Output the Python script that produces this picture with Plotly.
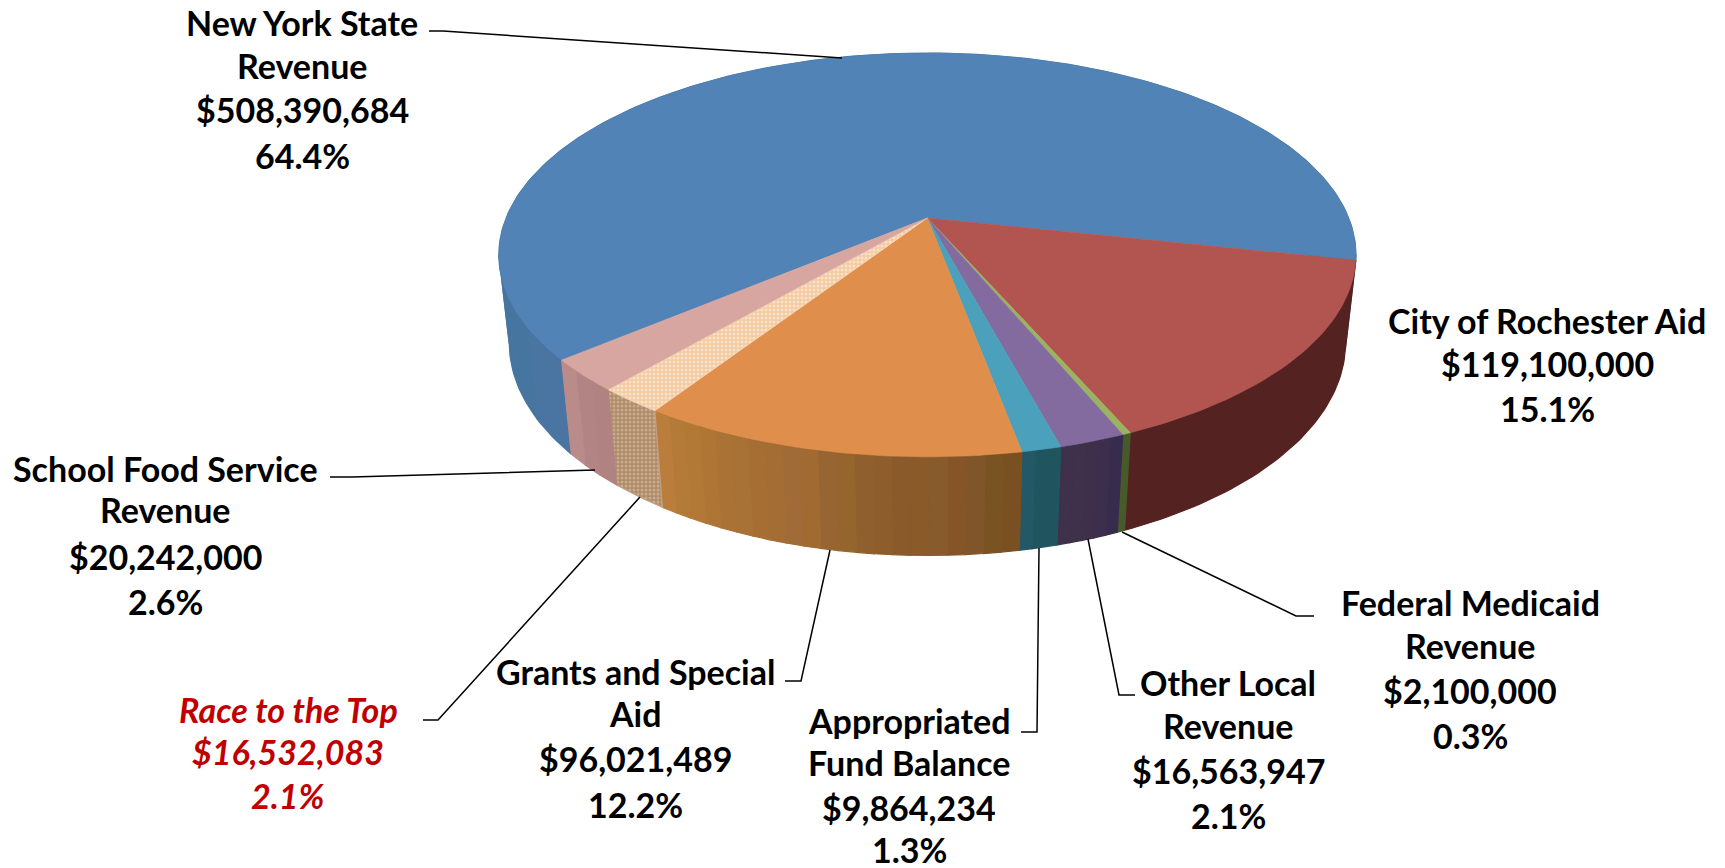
import math
from itertools import groupby
import plotly.graph_objects as go

# ---- data (clockwise order, starting with the blue slice) ----
categories = ["New York State Revenue", "City of Rochester Aid", "Federal Medicaid Revenue",
              "Other Local Revenue", "Appropriated Fund Balance", "Grants and Special Aid",
              "Race to the Top", "School Food Service Revenue"]
values = [508390684, 119100000, 2100000, 16563947, 9864234, 96021489, 16532083, 20242000]
percents = ["64.4%", "15.1%", "0.3%", "2.1%", "1.3%", "12.2%", "2.1%", "2.6%"]
top_colors = ["#5283b6", "#b25551", "#9bb261", "#836ba0", "#4ba1bb", "#df8e4c", "#f6d8bd", "#d8a6a0"]
# side colours, listed in clockwise order (right to left along the front)
side_bands = [
    ["#4a74a2"] + ["#46769f"] * 23,
    ["#542220"],
    ["#475a2a"],
    ["#372c4e", "#3c2f4d", "#3e304b", "#3e314a", "#3f304c"],
    ["#205560", "#205560", "#235866"],
    ["#7a4f22", "#7a5322", "#805529", "#855527", "#875b2b", "#8a5a28", "#8b5a2a", "#8e5d2c",
     "#8f5f2d", "#95652e", "#966531", "#a16a31", "#a06b36", "#a36d33", "#a66e33", "#a87135",
     "#aa7234", "#ae7535", "#b27836", "#b47a38", "#ba7d3b"],
    ["#c0a088"],
    ["#b08282", "#b28484", "#b98c8a"],
]
side_pattern = {6: ("#d9cfc4", "#b08a62")}
top_pattern = {6: ("#fffaf3", "#f3c9a0")}

# label text lines with their centre x / line-centre y in the picture
label_lines = {
    0: (302, [22, 65, 109, 155], ["New York State", "Revenue", "$508,390,684", "64.4%"]),
    1: (1547, [320, 363, 408], ["City of Rochester Aid", "$119,100,000", "15.1%"]),
    2: (1470, [602, 645, 690, 735], ["Federal Medicaid", "Revenue", "$2,100,000", "0.3%"]),
    3: (1228, [682, 725, 770, 815], ["Other Local", "Revenue", "$16,563,947", "2.1%"]),
    4: (909, [720, 762, 807, 849], ["Appropriated", "Fund Balance", "$9,864,234", "1.3%"]),
    5: (635, [671, 713, 758, 804], ["Grants and Special", "Aid", "$96,021,489", "12.2%"]),
    6: (288, [709, 751, 795], ["Race to the Top", "$16,532,083", "2.1%"]),
    7: (165, [468, 509, 556, 601], ["School Food Service", "Revenue", "$20,242,000", "2.6%"]),
}
leaders = [
    [(429, 31), (443, 31), (842, 58)],
    [(330, 477), (352, 477), (595, 470)],
    [(423, 720), (438, 720), (640, 497)],
    [(785, 681), (801, 681), (830, 550)],
    [(1021, 732), (1037, 732), (1039, 548)],
    [(1135, 695), (1119, 695), (1088, 539)],
    [(1314, 616), (1296, 616), (1122, 532)],
]

# ---- projection of the tilted disc ----
CX, CY, R, B, K, H, M = 927.4, 218.0, 421.3, 195.1, 0.183, 88.7, 0.024
START = 140.0
SIL = math.degrees(math.asin(K))


def project(theta_deg, h=0.0):
    t = math.radians(theta_deg)
    u, v = math.cos(t), math.sin(t)
    w = 1 - K * v + M * h
    return CX + R * u / w, CY + (B * v + H * h) / w


total = sum(values)
edges = [START]
for val in values:
    edges.append(edges[-1] + val / total * 360)

fig = go.Figure()


def poly(points, color, pattern=None, width=0.6):
    xs = [p[0] for p in points] + [points[0][0]]
    ys = [p[1] for p in points] + [points[0][1]]
    kw = {}
    if pattern:
        kw["fillpattern"] = dict(shape=".", fgcolor=pattern[0], bgcolor=pattern[1], size=4, solidity=0.45)
    fig.add_trace(go.Scatter(x=xs, y=ys, mode="lines", fill="toself", fillcolor=color,
                             line=dict(color=color, width=width),
                             hoverinfo="skip", showlegend=False, **kw))


def arc(a, b, h, step=1.0):
    n = max(2, int(abs(b - a) / step) + 1)
    return [project(a + (b - a) * q / n, h) for q in range(n + 1)]


# sides first (the top disc covers whatever faces away). Neighbouring bands of
# one colour are merged; each run is cut at the silhouette angles so the
# outline between the two rims stays straight.
cuts = [180 - SIL, 360 + SIL]
for i, bands in enumerate(side_bands):
    a0, a1 = edges[i], edges[i + 1]
    n = len(bands)
    pos = 0
    for col, grp in groupby(bands):
        count = len(list(grp))
        s = a0 + (a1 - a0) * pos / n
        e = a0 + (a1 - a0) * (pos + count) / n
        pos += count
        marks = [s] + [c for c in cuts if s < c < e] + [e]
        for p, q in zip(marks, marks[1:]):
            poly(arc(p, q, 0) + arc(q, p, 1), col, side_pattern.get(i), width=1.2)

# top faces
for i, col in enumerate(top_colors):
    poly([(CX, CY)] + arc(edges[i], edges[i + 1], 0), col, top_pattern.get(i))

shapes = []
for pts in leaders:
    path = "M " + " L ".join(f"{x} {y}" for x, y in pts)
    shapes.append(dict(type="path", path=path, xref="x", yref="y",
                       line=dict(color="#000000", width=1.5)))

annotations = []
for i, (cx, ys, lines) in label_lines.items():
    red = categories[i] == "Race to the Top"
    for y, text in zip(ys, lines):
        t = f"<b><i>{text}</i></b>" if red else f"<b>{text}</b>"
        annotations.append(dict(x=cx, y=y, xref="x", yref="y", text=t, showarrow=False,
                                xanchor="center", yanchor="middle", height=38,
                                font=dict(family="Lato", size=34, color="#C00000" if red else "#000000")))

fig.update_layout(
    width=1725, height=868, margin=dict(l=0, r=0, t=0, b=0),
    paper_bgcolor="#ffffff", plot_bgcolor="#ffffff", showlegend=False,
    xaxis=dict(range=[0, 1725], visible=False, fixedrange=True),
    yaxis=dict(range=[868, 0], visible=False, fixedrange=True),
    shapes=shapes, annotations=annotations,
)
fig.write_html("out.html", config=dict(displayModeBar=False),
               post_script="document.body.style.margin='0';document.body.style.overflow='hidden';")
